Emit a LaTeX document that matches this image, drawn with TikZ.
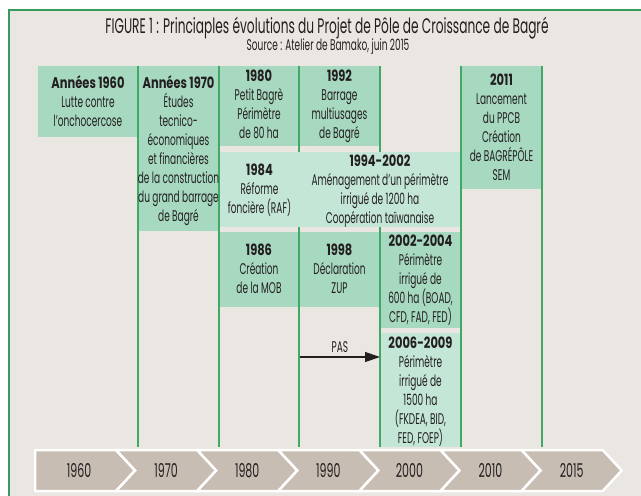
\documentclass[tikz,border=0pt]{standalone}
\usepackage{fontspec}
\setmainfont{Poppins}[FakeStretch=0.58, BoldFeatures={FakeStretch=0.74}]
\usetikzlibrary{arrows.meta}
\definecolor{bg}{HTML}{EAE6E1}
\definecolor{boxg}{HTML}{A7D9C1}
\definecolor{boxl}{HTML}{C4E6D6}
\definecolor{lineg}{HTML}{3FA965}
\definecolor{frameg}{HTML}{3A9A5C}
\definecolor{chev}{HTML}{C8BDB2}
\definecolor{ink}{HTML}{231F20}
\begin{document}
\begin{tikzpicture}[x=1pt,y=-1pt,
  mbox/.style={fill=boxg, draw=none, inner sep=0, outer sep=0, anchor=north west},
  lbox/.style={fill=boxl, draw=none, inner sep=0, outer sep=0, anchor=north west},
  vline/.style={draw=lineg, line width=1.1pt},
  txt/.style={align=center, inner sep=0, anchor=north, text=ink,
    font=\fontsize{15.5}{19}\selectfont, execute at begin node={\strut}},
  chevlab/.style={inner sep=0, anchor=center, text=ink, font=\fontsize{19}{21}\selectfont},
  chevshape/.style={fill=chev, draw=white, line width=2.5pt, line join=miter},
  pasarrow/.style={draw=ink, line width=1.2pt, -{Triangle[length=15pt,width=10pt]}}
]
\useasboundingbox (0,0) rectangle (641,496);
\fill[white] (0,0) rectangle (641,496);
\fill[bg] (9,10) rectangle (641,496);
\draw[frameg, line width=2pt] (9,496) -- (9,10) -- (641,10);

% title
\node[inner sep=0, anchor=base, text=ink, font=\fontsize{21}{23}\selectfont] (title) at (327,33.5) {FIGURE 1 : Princiaples évolutions du Projet de Pôle de Croissance de Bagré};
\node[inner sep=0, anchor=base, text=ink, font=\fontsize{15.5}{17}\selectfont] (source) at (328,50.5) {Source : Atelier de Bamako, juin 2015};

% medium boxes
\node[mbox, minimum width=100, minimum height=71] (b1960) at (38,66) {};
\node[mbox, minimum width=81, minimum height=165] (b1970) at (138,66) {};
\node[mbox, minimum width=80, minimum height=80] (b1980) at (219,66) {};
\node[mbox, minimum width=81, minimum height=80] (b1992) at (299,66) {};
\node[mbox, minimum width=81, minimum height=123] (b2011) at (461,66) {};
\node[mbox, minimum width=80, minimum height=75] (b1986) at (219,232) {};
\node[mbox, minimum width=81, minimum height=75] (b1998) at (299,232) {};
\node[mbox, minimum width=81, minimum height=96] (b2002) at (380,232) {};
\node[lbox, minimum width=81, minimum height=114] (b2006) at (380,333) {};

% column lines
\foreach \x in {138,219,299,380,461,542} \draw[vline] (\x,66) -- (\x,447);

% wide light box
\node[lbox, minimum width=240.6, minimum height=75] (b1984) at (219.7,152) {};

% texts
\node[txt] (t1960) at (88,75.1) {\bfseries Années 1960\\Lutte contre\\l’onchocercose};
\node[txt] (t1970) at (178.5,75.1) {\bfseries Années 1970\\Études\\tecnico-\\économiques\\et financières\\de la construction\\du grand barrage\\de Bagré};
\node[txt] (t1980) at (259,70.1) {\bfseries 1980\\Petit Bagrè\\Périmètre\\de 80 ha};
\node[txt] (t1992) at (339.5,70.1) {\bfseries 1992\\Barrage\\multiusages\\de Bagré};
\node[txt] (t2011) at (501.5,74.1) {\bfseries 2011\\Lancement\\du PPCB\\Création\\de BAGRÉPÔLE\\SEM};
\node[txt] (t1984) at (259.5,164.1) {\bfseries 1984\\Réforme\\foncière (RAF)};
\node[txt] (t1994) at (380,155.1) {\bfseries 1994-2002\\Aménagement d’un périmètre\\irrigué de 1200 ha\\Coopération taïwanaise};
\node[txt] (t1986) at (259,244.1) {\bfseries 1986\\Création\\de la MOB};
\node[txt] (t1998) at (339.5,244.1) {\bfseries 1998\\Déclaration\\ZUP};
\node[txt] (t2002) at (420.5,235.1) {\bfseries 2002-2004\\Périmètre\\irrigué de\\600 ha (BOAD,\\CFD, FAD, FED)};
\node[txt] (t2006) at (420.5,337.1) {\bfseries 2006-2009\\Périmètre\\irrigué de\\1500 ha\\(FKDEA, BID,\\FED, FOEP)};

% PAS arrow
\coordinate (passtart) at (299.5,357);
\draw[pasarrow] (passtart) -- (passtart -| b2006.west);
\node[inner sep=0, anchor=base, text=ink, font=\fontsize{15.5}{17}\selectfont] (pas) at (340,352) {PAS};

% timeline chevrons
\foreach \i/\lab in {0/1960,1/1970,2/1980,3/1990,4/2000,5/2010,6/2015} {
  \pgfmathsetmacro{\L}{35+81.1*\i}
  \ifnum\i=0
    \path[chevshape] (\L,450) -- (\L+81.1,450) -- (\L+100.1,470.5) -- (\L+81.1,491) -- (\L,491) -- cycle;
    \node[chevlab] (c\lab) at (79,471) {\lab};
  \else
    \path[chevshape] (\L,450) -- (\L+81.1,450) -- (\L+100.1,470.5) -- (\L+81.1,491) -- (\L,491) -- (\L+19,470.5) -- cycle;
    \node[chevlab] (c\lab) at (\L+50,471) {\lab};
  \fi
}
\end{tikzpicture}
\end{document}
